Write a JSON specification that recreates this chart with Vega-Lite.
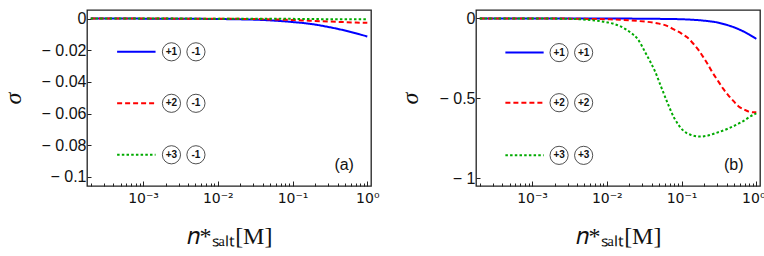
{
  "$schema": "https://vega.github.io/schema/vega-lite/v6.json",
  "padding": {"left": 0, "top": 9, "right": 0, "bottom": 0},
  "background": "white",
  "config": {
    "view": {"stroke": "#222", "strokeWidth": 1.3},
    "axis": {"grid": false, "domain": false, "labelFont": "Liberation Sans", "labelFontSize": 16, "labelColor": "#111", "tickColor": "#222", "titleColor": "#111", "titleFontWeight": "normal"}
  },
  "datasets": {
    "curvesA": [
      {"x": 0.0002, "y": 0, "s": "1"}, {"x": 0.001, "y": -0.00005, "s": "1"}, {"x": 0.003, "y": -0.0001, "s": "1"}, {"x": 0.01, "y": -0.0003, "s": "1"}, {"x": 0.02, "y": -0.0005, "s": "1"}, {"x": 0.04, "y": -0.0009, "s": "1"}, {"x": 0.07, "y": -0.0016, "s": "1"}, {"x": 0.1, "y": -0.0022, "s": "1"}, {"x": 0.15, "y": -0.003, "s": "1"}, {"x": 0.2, "y": -0.0038, "s": "1"}, {"x": 0.3, "y": -0.0053, "s": "1"}, {"x": 0.4, "y": -0.0065, "s": "1"}, {"x": 0.55, "y": -0.008, "s": "1"}, {"x": 0.7, "y": -0.0093, "s": "1"}, {"x": 0.85, "y": -0.0104, "s": "1"}, {"x": 1.0, "y": -0.0113, "s": "1"},
      {"x": 0.0002, "y": 0, "s": "2"}, {"x": 0.01, "y": -0.0001, "s": "2"}, {"x": 0.03, "y": -0.0003, "s": "2"}, {"x": 0.06, "y": -0.0006, "s": "2"}, {"x": 0.1, "y": -0.0009, "s": "2"}, {"x": 0.2, "y": -0.0015, "s": "2"}, {"x": 0.4, "y": -0.0021, "s": "2"}, {"x": 0.7, "y": -0.0025, "s": "2"}, {"x": 1.0, "y": -0.0027, "s": "2"},
      {"x": 0.0002, "y": 0, "s": "3"}, {"x": 0.03, "y": -0.0001, "s": "3"}, {"x": 0.1, "y": -0.0002, "s": "3"}, {"x": 0.3, "y": -0.0004, "s": "3"}, {"x": 1.0, "y": -0.0005, "s": "3"}
    ],
    "curvesB": [
      {"x": 0.0002, "y": 0, "s": "1"}, {"x": 0.01, "y": -0.0005, "s": "1"}, {"x": 0.03, "y": -0.0015, "s": "1"}, {"x": 0.06, "y": -0.003, "s": "1"}, {"x": 0.1, "y": -0.005, "s": "1"}, {"x": 0.15, "y": -0.009, "s": "1"}, {"x": 0.2, "y": -0.014, "s": "1"}, {"x": 0.3, "y": -0.025, "s": "1"}, {"x": 0.4, "y": -0.04, "s": "1"}, {"x": 0.5, "y": -0.055, "s": "1"}, {"x": 0.63, "y": -0.075, "s": "1"}, {"x": 0.8, "y": -0.1, "s": "1"}, {"x": 1.0, "y": -0.128, "s": "1"},
      {"x": 0.0002, "y": 0, "s": "2"}, {"x": 0.003, "y": -0.001, "s": "2"}, {"x": 0.006, "y": -0.003, "s": "2"}, {"x": 0.01, "y": -0.005, "s": "2"}, {"x": 0.015, "y": -0.008, "s": "2"}, {"x": 0.025, "y": -0.015, "s": "2"}, {"x": 0.044, "y": -0.028, "s": "2"}, {"x": 0.06, "y": -0.042, "s": "2"}, {"x": 0.08, "y": -0.07, "s": "2"}, {"x": 0.1, "y": -0.095, "s": "2"}, {"x": 0.12, "y": -0.12, "s": "2"}, {"x": 0.145, "y": -0.16, "s": "2"}, {"x": 0.17, "y": -0.2, "s": "2"}, {"x": 0.2, "y": -0.25, "s": "2"}, {"x": 0.226, "y": -0.29, "s": "2"}, {"x": 0.26, "y": -0.34, "s": "2"}, {"x": 0.31, "y": -0.394, "s": "2"}, {"x": 0.36, "y": -0.44, "s": "2"}, {"x": 0.42, "y": -0.48, "s": "2"}, {"x": 0.5, "y": -0.52, "s": "2"}, {"x": 0.575, "y": -0.55, "s": "2"}, {"x": 0.68, "y": -0.57, "s": "2"}, {"x": 0.785, "y": -0.583, "s": "2"}, {"x": 0.9, "y": -0.588, "s": "2"}, {"x": 1.0, "y": -0.588, "s": "2"},
      {"x": 0.0002, "y": 0, "s": "3"}, {"x": 0.002, "y": -0.001, "s": "3"}, {"x": 0.004, "y": -0.004, "s": "3"}, {"x": 0.0054, "y": -0.008, "s": "3"}, {"x": 0.007, "y": -0.013, "s": "3"}, {"x": 0.009, "y": -0.02, "s": "3"}, {"x": 0.012, "y": -0.032, "s": "3"}, {"x": 0.015, "y": -0.048, "s": "3"}, {"x": 0.018, "y": -0.068, "s": "3"}, {"x": 0.021, "y": -0.09, "s": "3"}, {"x": 0.026, "y": -0.13, "s": "3"}, {"x": 0.033, "y": -0.216, "s": "3"}, {"x": 0.039, "y": -0.28, "s": "3"}, {"x": 0.044, "y": -0.33, "s": "3"}, {"x": 0.053, "y": -0.426, "s": "3"}, {"x": 0.065, "y": -0.53, "s": "3"}, {"x": 0.08, "y": -0.625, "s": "3"}, {"x": 0.092, "y": -0.67, "s": "3"}, {"x": 0.104, "y": -0.7, "s": "3"}, {"x": 0.134, "y": -0.73, "s": "3"}, {"x": 0.18, "y": -0.74, "s": "3"}, {"x": 0.22, "y": -0.735, "s": "3"}, {"x": 0.28, "y": -0.72, "s": "3"}, {"x": 0.42, "y": -0.69, "s": "3"}, {"x": 0.63, "y": -0.65, "s": "3"}, {"x": 0.91, "y": -0.604, "s": "3"}, {"x": 1.0, "y": -0.595, "s": "3"}
    ],
    "legLinesA": [
      {"x": 0.00045, "x2": 0.00147, "y": -0.021, "s": "1"},
      {"x": 0.00045, "x2": 0.00147, "y": -0.0535, "s": "2"},
      {"x": 0.00045, "x2": 0.00147, "y": -0.086, "s": "3"}
    ],
    "legLinesB": [
      {"x": 0.00044, "x2": 0.00143, "y": -0.214, "s": "1"},
      {"x": 0.00044, "x2": 0.00143, "y": -0.528, "s": "2"},
      {"x": 0.00044, "x2": 0.00143, "y": -0.858, "s": "3"}
    ],
    "circlesA": [
      {"x": 0.0024, "y": -0.021, "label": "+1"}, {"x": 0.0051, "y": -0.021, "label": "-1"},
      {"x": 0.0024, "y": -0.0535, "label": "+2"}, {"x": 0.0051, "y": -0.0535, "label": "-1"},
      {"x": 0.0024, "y": -0.086, "label": "+3"}, {"x": 0.0051, "y": -0.086, "label": "-1"}
    ],
    "circlesB": [
      {"x": 0.0023, "y": -0.214, "label": "+1"}, {"x": 0.0049, "y": -0.214, "label": "+1"},
      {"x": 0.0023, "y": -0.528, "label": "+2"}, {"x": 0.0049, "y": -0.528, "label": "+2"},
      {"x": 0.0023, "y": -0.858, "label": "+3"}, {"x": 0.0049, "y": -0.858, "label": "+3"}
    ],
    "tagA": [{"x": 0.49, "y": -0.0924, "label": "(a)"}],
    "tagB": [{"x": 0.5, "y": -0.918, "label": "(b)"}]
  },
  "hconcat": [
    {
      "width": 284, "height": 176,
      "encoding": {
        "x": {"field": "x", "type": "quantitative",
          "scale": {"type": "log", "domain": [0.000178, 1.12], "nice": false},
          "axis": {"values": [0.0002,0.0003,0.0004,0.0005,0.0006,0.0007,0.0008,0.0009,0.001,0.002,0.003,0.004,0.005,0.006,0.007,0.008,0.009,0.01,0.02,0.03,0.04,0.05,0.06,0.07,0.08,0.09,0.1,0.2,0.3,0.4,0.5,0.6,0.7,0.8,0.9,1],
            "labelExpr": "datum.value == 0.001 ? '10⁻³' : datum.value == 0.01 ? '10⁻²' : datum.value == 0.1 ? '10⁻¹' : datum.value == 1 ? '10⁰' : ''",
            "labelFont": "DejaVu Sans", "labelFontSize": 14,
            "labelOverlap": false, "labelFlush": false, "labelPadding": 10,
            "tickSize": {"condition": {"test": "indexof([0.001,0.01,0.1,1], datum.value) >= 0", "value": -5}, "value": -3},
            "title": "𝑛*ₛₐₗₜ[M]", "titleFont": "Liberation Serif", "titleFontSize": 24, "titlePadding": 17}},
        "y": {"field": "y", "type": "quantitative",
          "scale": {"domain": [-0.1057, 0.0054], "nice": false, "zero": false},
          "axis": {"values": [0, -0.02, -0.04, -0.06, -0.08, -0.1],
            "labelExpr": "datum.value == 0 ? '0' : '− ' + format(-datum.value, '.2~f')",
            "tickSize": -4, "labelPadding": 5,
            "title": "σ", "titleFont": "Liberation Serif", "titleFontStyle": "italic", "titleFontSize": 24, "titlePadding": 16}}
      },
      "layer": [
        {"data": {"name": "curvesA"}, "mark": {"type": "line", "strokeWidth": 2, "interpolate": "monotone"},
          "encoding": {
            "color": {"field": "s", "type": "nominal", "scale": {"domain": ["1","2","3"], "range": ["#0000ff","#ff0000","#00aa00"]}, "legend": null},
            "strokeDash": {"field": "s", "type": "nominal", "scale": {"domain": ["1","2","3"], "range": [[1,0],[5,3],[2.5,2.2]]}, "legend": null}}},
        {"data": {"name": "legLinesA"}, "mark": {"type": "rule", "strokeWidth": 2},
          "encoding": {"x2": {"field": "x2"},
            "color": {"field": "s", "type": "nominal", "scale": {"domain": ["1","2","3"], "range": ["#0000ff","#ff0000","#00aa00"]}, "legend": null},
            "strokeDash": {"field": "s", "type": "nominal", "scale": {"domain": ["1","2","3"], "range": [[1,0],[5,3],[2.5,2.2]]}, "legend": null}}},
        {"data": {"name": "circlesA"}, "mark": {"type": "point", "shape": "circle", "size": 330, "filled": true, "fill": "white", "stroke": "#222", "strokeWidth": 0.8, "opacity": 1}, "encoding": {}},
        {"data": {"name": "circlesA"}, "mark": {"type": "text", "font": "Liberation Sans", "fontSize": 10, "fontWeight": "bold", "align": "center", "baseline": "middle", "color": "#111"},
          "encoding": {"text": {"field": "label"}}},
        {"data": {"name": "tagA"}, "mark": {"type": "text", "font": "Liberation Sans", "fontSize": 16, "align": "center", "baseline": "middle", "color": "#111"},
          "encoding": {"text": {"field": "label"}}}
      ]
    },
    {
      "width": 284, "height": 176,
      "encoding": {
        "x": {"field": "x", "type": "quantitative",
          "scale": {"type": "log", "domain": [0.000178, 1.12], "nice": false},
          "axis": {"values": [0.0002,0.0003,0.0004,0.0005,0.0006,0.0007,0.0008,0.0009,0.001,0.002,0.003,0.004,0.005,0.006,0.007,0.008,0.009,0.01,0.02,0.03,0.04,0.05,0.06,0.07,0.08,0.09,0.1,0.2,0.3,0.4,0.5,0.6,0.7,0.8,0.9,1],
            "labelExpr": "datum.value == 0.001 ? '10⁻³' : datum.value == 0.01 ? '10⁻²' : datum.value == 0.1 ? '10⁻¹' : datum.value == 1 ? '10⁰' : ''",
            "labelFont": "DejaVu Sans", "labelFontSize": 14,
            "labelOverlap": false, "labelFlush": false, "labelPadding": 10,
            "labelOffset": {"condition": {"test": "datum.value == 1", "value": -3}, "value": 0},
            "tickSize": {"condition": {"test": "indexof([0.001,0.01,0.1,1], datum.value) >= 0", "value": -5}, "value": -3},
            "title": "𝑛*ₛₐₗₜ[M]", "titleFont": "Liberation Serif", "titleFontSize": 24, "titlePadding": 17}},
        "y": {"field": "y", "type": "quantitative",
          "scale": {"domain": [-1.05, 0.053], "nice": false, "zero": false},
          "axis": {"values": [0, -0.5, -1],
            "labelExpr": "datum.value == 0 ? '0' : '− ' + format(-datum.value, '.1~f')",
            "tickSize": -4, "labelPadding": 5,
            "title": "σ", "titleFont": "Liberation Serif", "titleFontStyle": "italic", "titleFontSize": 24, "titlePadding": 16}}
      },
      "layer": [
        {"data": {"name": "curvesB"}, "mark": {"type": "line", "strokeWidth": 2, "interpolate": "monotone"},
          "encoding": {
            "color": {"field": "s", "type": "nominal", "scale": {"domain": ["1","2","3"], "range": ["#0000ff","#ff0000","#00aa00"]}, "legend": null},
            "strokeDash": {"field": "s", "type": "nominal", "scale": {"domain": ["1","2","3"], "range": [[1,0],[5,3],[2.5,2.2]]}, "legend": null}}},
        {"data": {"name": "legLinesB"}, "mark": {"type": "rule", "strokeWidth": 2},
          "encoding": {"x2": {"field": "x2"},
            "color": {"field": "s", "type": "nominal", "scale": {"domain": ["1","2","3"], "range": ["#0000ff","#ff0000","#00aa00"]}, "legend": null},
            "strokeDash": {"field": "s", "type": "nominal", "scale": {"domain": ["1","2","3"], "range": [[1,0],[5,3],[2.5,2.2]]}, "legend": null}}},
        {"data": {"name": "circlesB"}, "mark": {"type": "point", "shape": "circle", "size": 330, "filled": true, "fill": "white", "stroke": "#222", "strokeWidth": 0.8, "opacity": 1}, "encoding": {}},
        {"data": {"name": "circlesB"}, "mark": {"type": "text", "font": "Liberation Sans", "fontSize": 10, "fontWeight": "bold", "align": "center", "baseline": "middle", "color": "#111"},
          "encoding": {"text": {"field": "label"}}},
        {"data": {"name": "tagB"}, "mark": {"type": "text", "font": "Liberation Sans", "fontSize": 16, "align": "center", "baseline": "middle", "color": "#111"},
          "encoding": {"text": {"field": "label"}}}
      ]
    }
  ],
  "spacing": 18
}
